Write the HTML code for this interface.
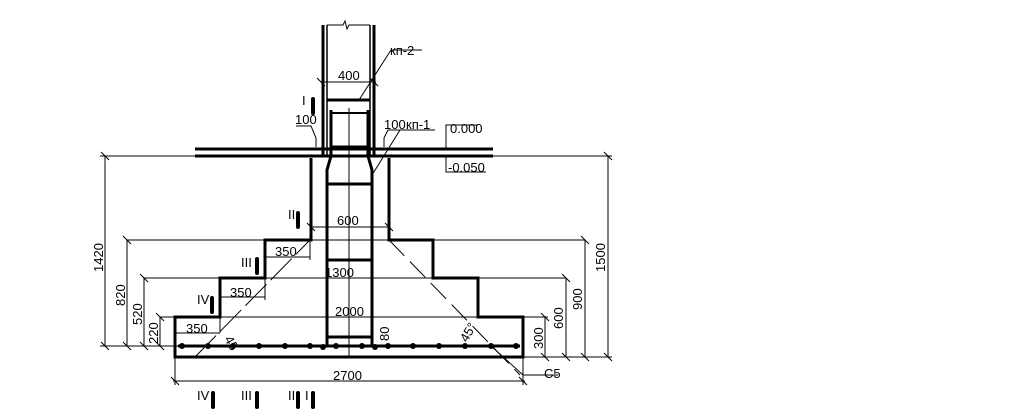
<!DOCTYPE html>
<html><head><meta charset="utf-8"><style>
html,body{margin:0;padding:0;background:#fff;}
svg{display:block}
text{font-family:"Liberation Sans",sans-serif;font-size:13px;fill:#000}
</style></head><body>
<svg width="1024" height="410" viewBox="0 0 1024 410" xmlns="http://www.w3.org/2000/svg">
<g stroke="#000" fill="none">
<line x1="323" y1="25" x2="323" y2="156" stroke-width="3"/>
<line x1="327" y1="25" x2="327" y2="156" stroke-width="1.5"/>
<line x1="374" y1="25" x2="374" y2="156" stroke-width="3"/>
<line x1="370" y1="25" x2="370" y2="156" stroke-width="1.5"/>
<path d="M327 25 H343 L345 21 L347 29 L349 25 H370" stroke-width="1"/>
<line x1="321" y1="82" x2="376" y2="82" stroke-width="1"/>
<line x1="327" y1="100" x2="370" y2="100" stroke-width="3"/>
<line x1="359" y1="100" x2="391" y2="50" stroke-width="1"/>
<line x1="391" y1="50" x2="422" y2="50" stroke-width="1"/>
<line x1="331" y1="110" x2="331" y2="156" stroke-width="3"/>
<line x1="368" y1="110" x2="368" y2="156" stroke-width="3"/>
<line x1="331" y1="113" x2="368" y2="113" stroke-width="2"/>
<line x1="331" y1="147" x2="368" y2="147" stroke-width="3"/>
<line x1="195" y1="149" x2="493" y2="149" stroke-width="3"/>
<line x1="195" y1="156" x2="493" y2="156" stroke-width="3"/>
<line x1="100" y1="156" x2="612" y2="156" stroke-width="1"/>
<path d="M311 158 V240 H265 V278 H220 V317 H175 V357 H523 V317 H478 V278 H433 V240 H389 V158" stroke-width="3"/>
<path d="M331 156 L327 170 V347" stroke-width="3"/>
<path d="M368 156 L372 170 V347" stroke-width="3"/>
<line x1="327" y1="184" x2="372" y2="184" stroke-width="3"/>
<line x1="327" y1="260" x2="372" y2="260" stroke-width="3"/>
<line x1="327" y1="337" x2="372" y2="337" stroke-width="3"/>
<line x1="349" y1="108" x2="349" y2="357" stroke-width="1"/>
<line x1="372" y1="175" x2="400" y2="130" stroke-width="1"/>
<line x1="400" y1="130" x2="435" y2="130" stroke-width="1"/>
<line x1="178" y1="346" x2="520" y2="346" stroke-width="3"/>
<line x1="311" y1="227" x2="389" y2="227" stroke-width="1"/>
<line x1="175" y1="317" x2="523" y2="317" stroke-width="1"/>
<line x1="175" y1="333" x2="220" y2="333" stroke-width="1"/>
<line x1="220" y1="317" x2="220" y2="333" stroke-width="1"/>
<line x1="220" y1="297" x2="265" y2="297" stroke-width="1"/>
<line x1="265" y1="278" x2="265" y2="300" stroke-width="1"/>
<line x1="265" y1="257" x2="310" y2="257" stroke-width="1"/>
<line x1="310" y1="240" x2="310" y2="260" stroke-width="1"/>
<line x1="127" y1="240" x2="585" y2="240" stroke-width="1"/>
<line x1="144" y1="278" x2="566" y2="278" stroke-width="1"/>
<line x1="160" y1="317" x2="175" y2="317" stroke-width="1"/>
<line x1="523" y1="317" x2="548" y2="317" stroke-width="1"/>
<line x1="100" y1="346" x2="178" y2="346" stroke-width="1"/>
<line x1="523" y1="357" x2="612" y2="357" stroke-width="1"/>
<line x1="195" y1="357" x2="310" y2="240" stroke-width="1" stroke-dasharray="30,6"/>
<line x1="389" y1="240" x2="520" y2="375" stroke-width="1" stroke-dasharray="22,8"/>
<line x1="490" y1="345" x2="523" y2="375" stroke-width="1"/>
<line x1="523" y1="375" x2="558" y2="375" stroke-width="1"/>
<line x1="105" y1="156" x2="105" y2="346" stroke-width="1"/>
<line x1="127" y1="240" x2="127" y2="346" stroke-width="1"/>
<line x1="144" y1="278" x2="144" y2="346" stroke-width="1"/>
<line x1="160" y1="317" x2="160" y2="346" stroke-width="1"/>
<line x1="608" y1="156" x2="608" y2="357" stroke-width="1"/>
<line x1="585" y1="240" x2="585" y2="357" stroke-width="1"/>
<line x1="566" y1="278" x2="566" y2="357" stroke-width="1"/>
<line x1="545" y1="317" x2="545" y2="357" stroke-width="1"/>
<line x1="175" y1="357" x2="175" y2="385" stroke-width="1"/>
<line x1="523" y1="357" x2="523" y2="385" stroke-width="1"/>
<line x1="173" y1="381" x2="525" y2="381" stroke-width="1"/>
<g stroke-width="1">
<path d="M101 152 l8 8 M101 342 l8 8 M123 236 l8 8 M123 342 l8 8 M140 274 l8 8 M140 342 l8 8 M156 313 l8 8 M156 342 l8 8 M604 152 l8 8 M604 353 l8 8 M581 236 l8 8 M581 353 l8 8 M562 274 l8 8 M562 353 l8 8 M541 313 l8 8 M541 353 l8 8 M171 377 l8 8 M519 377 l8 8 M307 223 l8 8 M385 223 l8 8 M317 78 l8 8 M370 78 l8 8"/>
</g>
<path d="M446 150 V125 H478 M446 157 V172 H486" stroke-width="1"/>
<path d="M316 147 V138 L311 126 H296 M384 147 V138 L388 130 H405" stroke-width="1"/>
</g>
<g fill="#000">
<circle cx="182" cy="346" r="3"/><circle cx="208" cy="346" r="3"/><circle cx="233" cy="346" r="3"/><circle cx="259" cy="346" r="3"/><circle cx="285" cy="346" r="3"/><circle cx="310" cy="346" r="3"/><circle cx="323" cy="347" r="3"/><circle cx="336" cy="346" r="3"/><circle cx="362" cy="346" r="3"/><circle cx="375" cy="347" r="3"/><circle cx="388" cy="346" r="3"/><circle cx="413" cy="346" r="3"/><circle cx="439" cy="346" r="3"/><circle cx="465" cy="346" r="3"/><circle cx="491" cy="346" r="3"/><circle cx="516" cy="346" r="3"/>
<rect x="311" y="97" width="4" height="18" rx="2"/>
<rect x="296" y="211" width="4" height="18" rx="2"/>
<rect x="255" y="257" width="4" height="18" rx="2"/>
<rect x="210" y="296" width="4" height="18" rx="2"/>
<rect x="211" y="391" width="4" height="18" rx="2"/>
<rect x="255" y="391" width="4" height="18" rx="2"/>
<rect x="296" y="391" width="4" height="18" rx="2"/>
<rect x="311" y="391" width="4" height="18" rx="2"/>
</g>
<text x="338" y="80">400</text>
<text x="390" y="55">кп-2</text>
<text x="295" y="124">100</text>
<text x="384" y="129">100</text><text x="406" y="129">кп-1</text>
<text x="450" y="133">0.000</text>
<text x="448" y="172">-0.050</text>
<text x="337" y="225">600</text>
<text x="325" y="277">1300</text>
<text x="335" y="316">2000</text>
<text x="275" y="256">350</text>
<text x="230" y="297">350</text>
<text x="186" y="333">350</text>
<text x="333" y="380">2700</text>
<text x="544" y="378">C5</text>
<text x="302" y="105">I</text>
<text x="288" y="219">II</text>
<text x="241" y="267">III</text>
<text x="197" y="304">IV</text>
<text x="197" y="400">IV</text>
<text x="241" y="400">III</text>
<text x="288" y="400">II</text>
<text x="305" y="400">I</text>
<text transform="translate(103,272) rotate(-90)">1420</text>
<text transform="translate(125,306) rotate(-90)">820</text>
<text transform="translate(142,325) rotate(-90)">520</text>
<text transform="translate(158,344) rotate(-90)">220</text>
<text transform="translate(605,272) rotate(-90)">1500</text>
<text transform="translate(582,310) rotate(-90)">900</text>
<text transform="translate(563,329) rotate(-90)">600</text>
<text transform="translate(543,349) rotate(-90)">300</text>
<text transform="translate(389,341) rotate(-90)">80</text>
<text transform="translate(224,339) rotate(60)" font-size="11">45</text>
<text transform="translate(467,343) rotate(-60)" font-size="11">45°</text>
</svg>
</body></html>
